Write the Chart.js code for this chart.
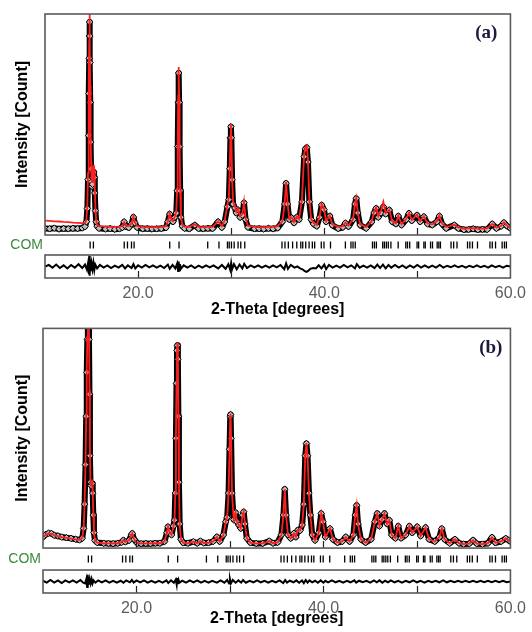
<!DOCTYPE html>
<html>
<head>
<meta charset="utf-8">
<script src="https://cdn.jsdelivr.net/npm/chart.js@4/dist/chart.umd.min.js"></script>
<style>
html,body{margin:0;padding:0;background:#fff;}
canvas{display:block;}
</style>
</head>
<body>
<canvas id="panelA" width="532" height="318"></canvas>
<canvas id="panelB" width="532" height="314"></canvas>
<script>
// ---------------- DATA ----------------
const phaseLabel = 'COM';
const xLabelValues = [20, 40, 60];
const innerTickValues = [20, 30, 40, 50];

// Bragg reflection positions (2-theta)
const braggPositions = [14.85,15.2,18.51,18.86,19.29,19.57,23.4,24.4,27.48,28.69,
  29.6,29.79,30.03,30.32,30.74,31.03,31.46,35.46,35.78,36.14,
  36.6,37.05,37.48,37.69,38.01,38.37,38.72,38.97,39.68,39.97,
  40.67,42.27,42.87,43.09,43.33,45.18,45.39,45.6,46.28,46.46,
  46.67,46.88,47.16,47.94,48.76,48.94,49.18,49.97,50.14,50.7,
  50.85,51.42,51.63,52.13,52.31,52.48,53.62,53.9,54.26,55.39,
  55.64,55.92,56.46,57.8,58.05,58.4,59.11,59.36,59.57];

// Panel (a)
const twoThetaA = [10.0,10.5,11.0,11.5,12.0,12.5,13.0,13.5,14.0,14.3,
  14.45,14.55,14.62,14.68,14.72,14.75,14.77,14.79,14.81,14.83,
  14.86,14.9,14.95,15.0,15.05,15.1,15.15,15.2,15.25,15.3,
  15.35,15.42,15.5,15.6,15.8,16.5,17.0,17.5,18.0,18.3,
  18.5,18.7,19.0,19.3,19.5,19.65,19.9,20.5,21.0,21.5,
  22.0,22.5,23.0,23.2,23.4,23.55,23.75,23.95,24.1,24.2,
  24.26,24.31,24.36,24.41,24.46,24.52,24.6,24.75,25.0,25.5,
  26.1,26.5,27.0,27.5,28.0,28.6,29.0,29.3,29.6,29.75,
  29.85,29.92,29.97,30.02,30.1,30.2,30.4,30.55,30.74,30.95,
  31.2,31.38,31.55,31.8,32.5,33.0,33.5,34.0,34.5,35.0,
  35.5,35.75,35.9,36.05,36.25,36.5,36.75,37.05,37.3,37.6,
  37.84,37.97,38.12,38.25,38.4,38.6,38.85,39.2,39.5,39.72,
  39.97,40.2,40.6,40.85,41.5,42.0,42.27,42.6,43.1,43.3,
  43.44,43.6,43.85,44.5,45.1,45.35,45.57,45.8,46.1,46.35,
  46.6,46.99,47.3,47.7,47.95,48.3,48.8,49.1,49.4,49.97,
  50.3,50.7,51.1,51.6,52.1,52.37,52.65,53.1,53.97,54.4,
  55.0,55.5,56.0,56.5,57.0,57.5,58.05,58.5,59.0,59.3,
  59.6,60.0];
const obsA = [30,28,31,27,29,28,30,29,32,38,
  60,120,250,450,640,800,900,964,900,780,
  600,420,300,240,220,230,260,280,285,260,
  190,110,60,40,30,27,29,26,28,34,
  60,38,33,50,81,55,34,28,29,27,
  28,29,33,60,95,70,60,80,99,200,
  400,600,733,600,400,200,80,40,30,28,
  45,29,28,30,29,60,34,60,128,160,
  300,440,490,440,250,140,122,100,113,80,
  90,146,70,35,28,29,27,30,28,32,
  60,140,234,140,70,77,55,81,70,150,
  354,390,396,330,150,70,50,40,80,136,
  115,60,86,45,29,35,54,38,70,140,
  166,100,45,30,60,100,121,80,100,128,
  95,113,60,50,86,45,70,98,65,90,
  60,83,50,45,60,86,50,30,45,30,
  24,25,28,24,26,25,50,30,40,56,
  42,30];
const calcA = [65,64,62,61,59,58,56,55,54,56,
  70,140,280,500,700,880,1000,1080,1010,880,
  680,470,330,260,240,250,290,310,316,290,
  210,120,65,45,40,38,37,37,38,40,
  58,42,40,52,84,58,40,37,36,36,
  36,37,40,62,98,72,62,85,105,210,
  420,630,760,620,410,205,85,45,38,37,
  48,37,36,37,37,62,40,65,135,170,
  310,450,500,445,260,150,130,105,120,85,
  95,150,75,42,37,36,36,37,37,40,
  62,145,240,145,72,80,58,84,72,160,
  365,398,405,340,155,72,55,45,85,140,
  120,62,88,48,37,40,56,42,72,142,
  168,102,48,37,62,105,125,85,110,150,
  100,115,62,52,88,48,72,100,68,92,
  62,85,52,48,62,88,52,36,46,34,
  29,30,31,29,29,30,50,33,42,57,
  44,33];

// Panel (b)
const twoThetaB = [10.0,10.3,10.6,10.9,11.2,11.6,12.0,12.5,13.0,13.5,
  13.9,14.2,14.35,14.45,14.55,14.62,14.68,14.74,14.8,14.86,
  14.92,14.97,15.02,15.08,15.15,15.25,15.32,15.38,15.45,15.55,
  15.8,16.5,17.0,17.5,18.0,18.4,18.6,18.8,19.2,19.45,
  19.55,19.75,20.1,20.5,21.0,21.5,22.0,22.5,23.0,23.25,
  23.37,23.5,23.75,23.95,24.07,24.15,24.22,24.28,24.33,24.38,
  24.43,24.48,24.54,24.62,24.75,25.0,25.5,26.1,26.5,26.84,
  27.2,27.7,28.2,28.6,28.9,29.3,29.55,29.7,29.85,29.95,
  30.03,30.07,30.12,30.22,30.4,30.6,30.75,30.95,31.15,31.35,
  31.47,31.6,31.8,32.2,32.8,33.5,34.2,34.6,35.1,35.5,
  35.72,35.86,36.0,36.2,36.5,36.84,37.05,37.26,37.5,37.72,
  37.9,38.05,38.18,38.3,38.45,38.6,38.8,39.1,39.5,39.76,
  39.95,40.2,40.7,41.0,41.5,42.0,42.39,42.8,43.2,43.4,
  43.55,43.7,44.0,44.5,45.1,45.5,45.76,46.0,46.25,46.53,
  46.8,47.05,47.3,47.7,48.0,48.3,48.8,49.19,49.5,50.03,
  50.4,50.92,51.3,51.9,52.4,52.66,52.95,53.5,54.07,54.5,
  55.0,55.6,56.0,56.4,57.0,57.6,58.03,58.4,59.0,59.5,
  59.8,60.0];
const obsB = [50,62,68,66,58,55,50,47,44,40,
  37,45,90,200,380,600,800,950,1010,1010,
  950,700,420,300,285,294,250,150,70,35,
  25,22,21,20,22,26,36,28,35,60,
  67,40,22,20,21,20,22,22,30,70,
  97,75,60,100,127,250,500,750,900,923,
  860,600,300,110,40,24,22,29,22,32,
  23,24,30,51,30,60,120,140,250,450,
  600,608,500,250,130,162,120,105,90,150,
  165,110,45,24,21,21,32,22,26,60,
  150,268,150,60,44,67,50,82,80,105,
  200,420,476,420,250,150,60,35,70,158,
  120,50,89,40,25,30,51,30,60,150,
  195,110,40,25,40,120,158,100,130,158,
  110,127,60,45,100,45,60,100,70,97,
  55,94,40,30,50,89,40,22,40,22,
  18,20,36,20,18,22,49,24,30,44,
  35,30];
const calcB = [52,60,65,64,59,54,50,46,43,40,
  38,46,92,205,385,610,810,960,1040,1040,
  970,720,430,305,290,300,255,155,72,36,
  25,22,21,21,22,26,36,28,35,60,
  67,40,22,21,21,21,22,22,30,70,
  97,75,60,100,127,250,500,750,905,935,
  870,610,300,110,40,24,22,29,22,32,
  23,24,30,51,30,60,120,140,250,450,
  600,612,500,250,130,162,120,105,90,150,
  165,110,45,24,21,21,32,22,26,60,
  150,268,150,60,44,67,50,82,80,105,
  200,420,478,420,250,150,60,35,70,158,
  120,50,89,40,25,30,51,30,60,150,
  195,110,40,25,40,120,158,100,130,158,
  110,127,60,45,100,45,60,100,70,97,
  55,94,40,30,50,89,40,22,40,22,
  18,20,36,20,18,22,49,24,30,44,
  35,30];

// Difference curves (obs - calc), shared 2-theta grid
const diffTheta = [10.0,10.4,10.8,11.2,11.6,12.0,12.4,12.8,13.2,13.6,
  14.0,14.3,14.5,14.65,14.72,14.77,14.8,14.84,14.9,15.0,
  15.1,15.2,15.3,15.4,15.6,15.9,16.3,16.7,17.1,17.5,
  17.9,18.3,18.6,18.9,19.3,19.5,19.7,20.0,20.4,20.8,
  21.2,21.6,22.0,22.4,22.8,23.2,23.4,23.7,24.0,24.2,
  24.3,24.36,24.42,24.5,24.6,24.9,25.3,25.7,26.1,26.5,
  26.9,27.3,27.7,28.1,28.6,29.0,29.4,29.7,29.9,30.0,
  30.1,30.3,30.6,30.9,31.2,31.4,31.7,32.1,32.5,32.9,
  33.3,33.7,34.1,34.5,34.9,35.3,35.7,35.9,36.1,36.4,
  36.8,37.1,37.4,37.7,37.9,38.1,38.3,38.5,38.8,39.1,
  39.4,39.7,40.0,40.2,40.5,40.9,41.3,41.7,42.1,42.5,
  42.9,43.3,43.5,43.8,44.2,44.6,45.0,45.4,45.7,46.0,
  46.3,46.6,46.9,47.2,47.6,48.0,48.4,48.8,49.2,49.6,
  50.0,50.4,50.8,51.2,51.6,52.0,52.4,52.8,53.2,53.6,
  54.0,54.4,54.8,55.2,55.6,56.0,56.4,56.8,57.2,57.6,
  58.0,58.4,58.8,59.2,59.6,60.0];
const diffA = [0,4,-3,5,-4,3,-5,4,-3,6,
  -4,5,-8,12,-20,28,-24,18,-12,9,
  -7,10,-9,5,-5,4,-3,3,-4,2,
  -3,4,-5,3,-4,6,-5,3,-3,4,
  -2,3,-3,2,-4,5,-6,4,-5,8,
  -12,13,-10,6,-6,3,-3,3,-4,2,
  -3,3,-2,3,-5,4,-6,6,-9,9,
  -7,6,-7,5,-5,7,-4,3,-2,3,
  -3,2,-3,3,-2,4,-7,8,-6,4,
  -3,0,-5,-8,-12,-14,-11,-6,-4,-5,
  3,-5,5,-7,4,-3,2,-3,4,-2,
  3,-5,6,-3,2,-3,3,-4,5,-4,
  5,-5,4,-3,4,-3,3,-4,3,-3,
  4,-3,3,-3,2,-3,4,-3,2,-2,
  3,-2,2,-3,2,-2,3,-2,2,-3,
  3,-2,2,-3,2,0];
const diffB = [2,-3,4,-3,3,-4,3,-2,3,-3,
  4,-3,-5,8,-14,18,-14,12,-8,7,
  -5,6,-5,3,-3,3,-2,3,-3,2,
  -3,2,-3,3,-2,4,-3,3,-2,3,
  -3,2,-3,2,-3,3,-4,3,-3,5,
  -8,9,-7,4,-3,2,-3,3,-2,3,
  -3,2,-3,2,-3,3,-3,4,-5,6,
  -5,4,-3,3,-3,4,-3,2,-2,3,
  -2,2,-3,2,-2,3,-4,4,-3,2,
  -2,3,-3,3,-4,4,-3,3,-2,2,
  -3,3,-3,2,-2,3,-2,2,-3,2,
  -2,3,-3,2,-2,2,-3,3,-2,3,
  -3,2,-2,3,-2,2,-3,2,-2,3,
  -2,2,-3,2,-2,2,-2,3,-2,2,
  -2,2,-2,2,-2,2,-2,2,-2,2,
  -2,2,-2,2,-2,0];

// ---------------- DRAWING ----------------
const FAMILY = '"Liberation Sans", Arial, Helvetica, sans-serif';

const framePlugin = {
  id: 'frames',
  afterDatasetsDraw(chart, args, opts) {
    const {ctx, chartArea, scales} = chart;
    const L = chartArea.left, R = chartArea.right;
    ctx.save();
    // inner tick marks
    ctx.strokeStyle = '#222';
    ctx.lineWidth = 1.2;
    for (const v of innerTickValues) {
      const px = Math.round(scales.x.getPixelForValue(v)) + 0.5;
      for (const id of ['yMain', 'yDiff']) {
        const b = scales[id].bottom;
        ctx.beginPath();
        ctx.moveTo(px, b);
        ctx.lineTo(px, b - 7);
        ctx.stroke();
      }
    }
    // frames
    ctx.strokeStyle = '#5a5a5a';
    ctx.lineWidth = 1.6;
    for (const id of ['yMain', 'yDiff']) {
      const s = scales[id];
      ctx.strokeRect(L, s.top, R - L, s.bottom - s.top);
    }
    // panel label
    ctx.font = 'bold 19px "Liberation Serif", "Times New Roman", serif';
    ctx.fillStyle = '#1a1a3c';
    ctx.textAlign = 'right';
    ctx.textBaseline = 'top';
    ctx.fillText(opts.label, R - opts.dx, scales.yMain.top + opts.dy);
    ctx.restore();
  }
};

function buildPanel(canvasId, p) {
  const obsPts = p.theta.map((t, i) => ({x: t, y: p.obs[i]}));
  const calcPts = p.theta.map((t, i) => ({x: t, y: p.calc[i]}));
  const diffPts = diffTheta.map((t, i) => ({x: t, y: p.diff[i]}));
  const braggPts = braggPositions.map(t => ({x: t, y: phaseLabel}));
  const fixW = s => { s.width = p.left; };
  return new Chart(document.getElementById(canvasId), {
    type: 'scatter',
    data: {
      datasets: [
        {label: 'Calc', data: calcPts, showLine: true, borderColor: '#ff1e1e', borderWidth: 1.8,
         pointRadius: 0, yAxisID: 'yMain', order: 0},
        {label: 'Obs', data: obsPts, showLine: true, borderColor: '#000', borderWidth: 6,
         borderJoinStyle: 'round', borderCapStyle: 'round',
         pointStyle: 'rectRot', pointRadius: 3.3, pointBackgroundColor: '#bdbdbd',
         pointBorderColor: '#000', pointBorderWidth: 1, yAxisID: 'yMain', order: 1},
        {label: 'Bragg', data: braggPts, showLine: false, pointStyle: 'line', pointRotation: 90, rotation: 90,
         pointRadius: 3.5, borderColor: '#000', pointBorderColor: '#000', pointBorderWidth: 1.3,
         yAxisID: 'yCom', order: 2},
        {label: 'Diff', data: diffPts, showLine: true, borderColor: '#000', borderWidth: 2,
         pointRadius: 0, yAxisID: 'yDiff', order: 3}
      ]
    },
    options: {
      responsive: false,
      animation: false,
      devicePixelRatio: 1,
      events: [],
      layout: {padding: {top: p.padTop, right: p.padRight, left: 0, bottom: 0}},
      plugins: {
        legend: {display: false},
        tooltip: {enabled: false},
        frames: {label: p.label, dx: p.labelDx, dy: p.labelDy}
      },
      scales: {
        x: {
          type: 'linear', min: 10, max: 60, position: 'bottom',
          grid: {display: false, drawTicks: false},
          border: {display: false},
          ticks: {
            stepSize: 10, autoSkip: false, maxRotation: 0, padding: p.tickPad,
            color: '#5c5c5c', font: {size: 16, family: FAMILY},
            callback: v => xLabelValues.includes(v) ? v.toFixed(1) : ''
          },
          title: {display: true, text: '2-Theta [degrees]', color: '#000',
                  font: {size: 16, weight: 'bold', family: FAMILY, lineHeight: 1},
                  padding: {top: 0, bottom: p.titlePadB}},
          afterFit: s => { s.height = p.xAxisH; }
        },
        yDiff: {
          type: 'linear', min: -30, max: 30, position: 'left', stack: 'panel', stackWeight: p.wDiff, weight: 0,
          grid: {display: false, drawTicks: false}, border: {display: false},
          ticks: {display: false}, afterFit: fixW
        },
        yCom: {
          type: 'category', labels: [phaseLabel], offset: true, position: 'left', stack: 'panel',
          stackWeight: p.wCom, weight: 1,
          grid: {display: false, drawTicks: false}, border: {display: false},
          ticks: {color: '#3a8a3a', font: {size: 14, family: FAMILY}, padding: 2},
          afterFit: fixW
        },
        yMain: {
          type: 'linear', min: 0, max: 1000, position: 'left', stack: 'panel', stackWeight: p.wMain, weight: 2,
          grid: {display: false, drawTicks: false}, border: {display: false},
          ticks: {display: false},
          title: {display: true, text: 'Intensity [Count]', color: '#000',
                  font: {size: 16, weight: 'bold', family: FAMILY}, padding: {top: p.yTitlePad, bottom: 0}},
          afterFit: fixW
        }
      }
    },
    plugins: [framePlugin]
  });
}

buildPanel('panelA', {
  theta: twoThetaA, obs: obsA, calc: calcA, diff: diffA, label: '(a)',
  left: 45, padTop: 14, padRight: 17, wMain: 221, wCom: 20, wDiff: 23,
  xAxisH: 40, tickPad: 6, titlePadB: 0, yTitlePad: 13, labelDx: 13, labelDy: 10
});
buildPanel('panelB', {
  theta: twoThetaB, obs: obsB, calc: calcB, diff: diffB, label: '(b)',
  left: 43, padTop: 10, padRight: 14, wMain: 220, wCom: 22, wDiff: 23,
  xAxisH: 39, tickPad: 6, titlePadB: 5, yTitlePad: 13, labelDx: 8, labelDy: 10
});
</script>
</body>
</html>
